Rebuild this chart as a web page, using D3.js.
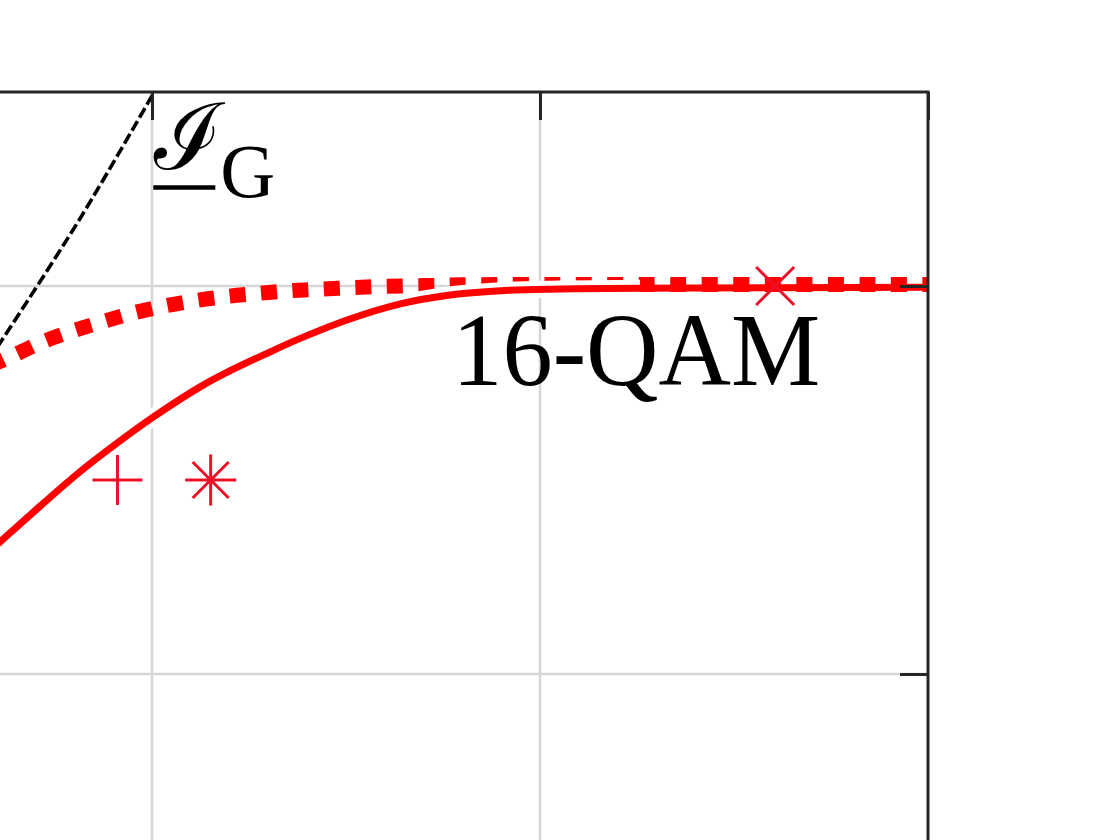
<!DOCTYPE html>
<html><head><meta charset="utf-8">
<script src="https://cdn.jsdelivr.net/npm/d3@7"></script>
<style>html,body{margin:0;padding:0;background:#fff;overflow:hidden}</style>
</head><body><svg id="c" width="1120" height="840"></svg>
<script>
// ---- data (x: SNR in dB, y: rate in bit/symbol) ----
const xTicks = [5, 10, 15, 20];
const yTicks = [2, 3, 4];
const gaussX = [7.9, 9.07, 10.2];
const gaussY = [3.81, 4.173, 4.56];
const dottedX = [7.9, 8.2, 8.58, 8.96, 9.35, 9.75, 10.15, 10.55, 10.96, 11.37, 11.78, 12.17, 12.6, 13.0, 13.5, 14.0, 15.0, 16.0, 20.0];
const dottedY = [3.793, 3.82, 3.855, 3.883, 3.907, 3.93, 3.948, 3.962, 3.973, 3.981, 3.988, 3.992, 3.996, 3.999, 4.001, 4.003, 4.004, 4.004, 4.004];
const solidX = [7.9, 8.04, 8.56, 9.07, 9.59, 10.0, 10.62, 11.04, 11.52, 11.91, 12.55, 13.2, 13.84, 14.49, 15.26, 16.29, 20.0];
const solidY = [3.315, 3.34, 3.433, 3.521, 3.601, 3.66, 3.74, 3.785, 3.83, 3.865, 3.915, 3.954, 3.977, 3.988, 3.992, 3.994, 3.997];
const plusPt = [9.555, 3.5];
const starPt = [10.756, 3.5];
const timesPt = [18.03, 4.0];
const qamLabel = "16-QAM";
const labelPos = [13.87, 3.745];
const igPos = [10.03, 4.29];

// ---- layout ----
const svg = d3.select("#c");
const plotRight = 928, plotTop = 92, unit = 388;
const x = d3.scaleLinear().domain([5, 20]).range([plotRight - 15 * unit / 5, plotRight]);
const y = d3.scaleLinear().domain([2, 4.5]).range([plotTop + 2.5 * unit, plotTop]);
const [x0, x1] = x.range(), [y0, y1] = y.range();

svg.append("defs").append("clipPath").attr("id", "clip")
  .append("rect").attr("x", x0).attr("y", y1).attr("width", x1 - x0).attr("height", y0 - y1);

// grid
const grid = svg.append("g");
grid.selectAll(".gx").data(xTicks.filter(d => d > 5 && d < 20)).join("line")
  .attr("x1", d => x(d)).attr("x2", d => x(d)).attr("y1", y1).attr("y2", y0)
  .attr("stroke", "#d6d6d8").attr("stroke-width", 2.5);
grid.selectAll(".gy").data(yTicks.filter(d => d > 2)).join("line")
  .attr("y1", d => y(d)).attr("y2", d => y(d)).attr("x1", x0).attr("x2", x1)
  .attr("stroke", "#d6d6d8").attr("stroke-width", 2.5);

// data
const plot = svg.append("g").attr("clip-path", "url(#clip)");
const line = d3.line().x(d => x(d[0])).y(d => y(d[1])).curve(d3.curveCatmullRom.alpha(0.5));
const gauss = gaussX.map((v, i) => [v, gaussY[i]]);
const dotted = dottedX.map((v, i) => [v, dottedY[i]]);
const solid = solidX.map((v, i) => [v, solidY[i]]);

plot.append("path").attr("d", line(gauss)).attr("fill", "none")
  .attr("stroke", "#000").attr("stroke-width", 3.6).attr("stroke-dasharray", "11,4");
plot.append("path").attr("d", line(dotted)).attr("fill", "none")
  .attr("stroke", "#ff0000").attr("stroke-width", 15).attr("stroke-dasharray", "16,15.5");
plot.append("path").attr("d", line(solid.filter(d => d[0] <= 16.3))).attr("fill", "none")
  .attr("stroke", "#fff").attr("stroke-width", 17);
plot.append("path").attr("d", line(solid)).attr("fill", "none")
  .attr("stroke", "#ff0000").attr("stroke-width", 7);

// markers
const mk = plot.append("g").attr("stroke", "#ec1029").attr("stroke-width", 3).attr("fill", "none");
function plus(g, cx, cy, r) { g.append("path").attr("d", `M${cx - r},${cy}H${cx + r}M${cx},${cy - r}V${cy + r}`); }
function times(g, cx, cy, r) { g.append("path").attr("d", `M${cx - r},${cy - r}L${cx + r},${cy + r}M${cx - r},${cy + r}L${cx + r},${cy - r}`); }
plus(mk, x(plusPt[0]), y(plusPt[1]), 25);
plus(mk, x(starPt[0]), y(starPt[1]), 25.5);
times(mk, x(starPt[0]), y(starPt[1]), 18);
times(mk, x(timesPt[0]), y(timesPt[1]), 19);

// frame and ticks
svg.append("rect").attr("x", x0).attr("y", y1).attr("width", x1 - x0).attr("height", y0 - y1)
  .attr("fill", "none").attr("stroke", "#262626").attr("stroke-width", 3);
const ax = svg.append("g").attr("transform", `translate(0,${plotTop})`)
  .call(d3.axisTop(x).tickValues(xTicks).tickSizeInner(-28).tickSizeOuter(0).tickFormat(""));
const ay = svg.append("g").attr("transform", `translate(${plotRight},0)`)
  .call(d3.axisRight(y).tickValues(yTicks).tickSizeInner(-28).tickSizeOuter(0).tickFormat(""));
[ax, ay].forEach(a => { a.select(".domain").remove(); a.selectAll("line").attr("stroke", "#262626").attr("stroke-width", 3); });

// labels
svg.append("text").attr("x", x(labelPos[0])).attr("y", y(labelPos[1]))
  .attr("font-family", "'Liberation Serif', 'DejaVu Serif', serif").attr("font-size", 104)
  .attr("textLength", 368).attr("lengthAdjust", "spacingAndGlyphs").text(qamLabel);
const ig = svg.append("g");
ig.append("text").attr("x", x(igPos[0])).attr("y", y(igPos[1]) - 4)
  .attr("font-family", "'DejaVu Serif', serif").attr("font-size", 92).text("ℐ");
ig.append("line").attr("x1", x(igPos[0]) - 1).attr("x2", x(igPos[0]) + 61)
  .attr("y1", y(igPos[1]) + 14).attr("y2", y(igPos[1]) + 14).attr("stroke", "#000").attr("stroke-width", 4.5);
ig.append("text").attr("x", x(igPos[0]) + 66).attr("y", y(igPos[1]) + 24)
  .attr("font-family", "'Liberation Serif', serif").attr("font-size", 76).text("G");
</script></body></html>
